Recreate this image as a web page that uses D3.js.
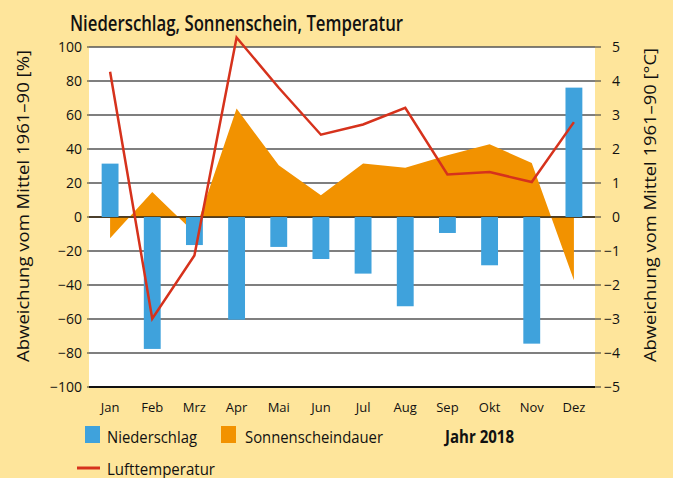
<!DOCTYPE html>
<html>
<head>
<meta charset="utf-8">
<script src="https://cdn.jsdelivr.net/npm/d3@7"></script>
<style>
  body { margin: 0; background: #fee59b; }
  text { font-family: "Open Sans", sans-serif; fill: #111; }
</style>
</head>
<body>
<div id="chart"></div>
<script>
var width = 673,
    height = 478;

var months = ["Jan", "Feb", "Mrz", "Apr", "Mai", "Jun", "Jul", "Aug", "Sep", "Okt", "Nov", "Dez"];
var niederschlag = [31.4, -77.6, -16.5, -60.4, -17.6, -24.7, -33.3, -52.5, -9.4, -28.4, -74.5, 76.1];
var sonnenschein = [-12.5, 14.7, -9.2, 63.8, 30.4, 12.8, 31.4, 29.0, 36.3, 42.8, 31.8, -37.2];
var temperatur = [4.27, -2.99, -1.13, 5.28, 3.8, 2.42, 2.72, 3.21, 1.25, 1.32, 1.03, 2.79];
var pctTicks = [100, 80, 60, 40, 20, 0, -20, -40, -60, -80, -100];
var tempTicks = [5, 4, 3, 2, 1, 0, -1, -2, -3, -4, -5];

var plotLeft = 89, plotRight = 595, plotTop = 47, plotBottom = 387;

var svg = d3.select("#chart").append("svg")
    .attr("width", width)
    .attr("height", height);

svg.append("rect").attr("width", width).attr("height", height).attr("fill", "#fee59b");

var x = d3.scaleBand().domain(months).range([plotLeft, plotRight]).paddingInner(0.6).paddingOuter(0.3);
var xc = d3.scalePoint().domain(months).range([plotLeft, plotRight]).padding(0.5);
var y = d3.scaleLinear().domain([-100, 100]).range([plotBottom, plotTop]);
var yT = d3.scaleLinear().domain([-5, 5]).range([plotBottom, plotTop]);

// plot background
svg.append("rect")
    .attr("x", plotLeft).attr("y", plotTop)
    .attr("width", plotRight - plotLeft).attr("height", plotBottom - plotTop)
    .attr("fill", "white");

// grid
svg.append("g")
    .selectAll("line")
    .data(pctTicks)
    .join("line")
    .attr("x1", plotLeft).attr("x2", plotRight)
    .attr("y1", d => y(d)).attr("y2", d => y(d))
    .attr("stroke", d => d === -100 ? "#111" : "#555")
    .attr("stroke-width", d => d === -100 ? 2 : 1.5);

// Sonnenscheindauer area
svg.append("path")
    .datum(sonnenschein)
    .attr("fill", "#f29200")
    .attr("d", d3.area()
        .x((d, i) => xc(months[i]))
        .y0(y(0))
        .y1(d => y(d)));

// zero line
svg.append("line")
    .attr("x1", plotLeft).attr("x2", plotRight)
    .attr("y1", y(0)).attr("y2", y(0))
    .attr("stroke", "#3a2a10")
    .attr("stroke-opacity", 0.75)
    .attr("stroke-width", 2);

// Niederschlag bars
svg.append("g")
    .selectAll("rect")
    .data(niederschlag)
    .join("rect")
    .attr("x", (d, i) => x(months[i]))
    .attr("width", x.bandwidth())
    .attr("y", d => y(Math.max(0, d)))
    .attr("height", d => Math.abs(y(d) - y(0)))
    .attr("fill", "#3fa2dc");

// Lufttemperatur
svg.append("path")
    .datum(temperatur)
    .attr("fill", "none")
    .attr("stroke", "#d6321c")
    .attr("stroke-width", 2.5)
    .attr("d", d3.line()
        .x((d, i) => xc(months[i]))
        .y(d => yT(d)));

// left axis
var gl = svg.append("g");
gl.selectAll("line")
    .data(pctTicks)
    .join("line")
    .attr("x1", plotLeft - 2).attr("x2", plotLeft)
    .attr("y1", d => y(d)).attr("y2", d => y(d))
    .attr("stroke", "#333");
gl.selectAll("text")
    .data(pctTicks)
    .join("text")
    .attr("x", 82)
    .attr("y", d => y(d))
    .attr("dy", "0.35em")
    .attr("text-anchor", "end")
    .attr("font-size", 14)
    .text(d => d < 0 ? "\u2212" + Math.abs(d) : d);

// right axis
var gr = svg.append("g");
gr.selectAll("line")
    .data(tempTicks)
    .join("line")
    .attr("x1", plotRight).attr("x2", plotRight + 6)
    .attr("y1", d => yT(d)).attr("y2", d => yT(d))
    .attr("stroke", "#333");
gr.selectAll("text")
    .data(tempTicks)
    .join("text")
    .attr("x", 620)
    .attr("y", d => yT(d))
    .attr("dy", "0.35em")
    .attr("text-anchor", "end")
    .attr("font-size", 14)
    .text(d => d < 0 ? "\u2212" + Math.abs(d) : d);

// month labels
svg.append("g")
    .selectAll("text")
    .data(months)
    .join("text")
    .attr("x", d => xc(d))
    .attr("y", 412)
    .attr("text-anchor", "middle")
    .attr("font-size", 13)
    .text(d => d);

// title
svg.append("text")
    .attr("x", 70).attr("y", 31)
    .attr("font-size", 21)
    .attr("font-weight", 600)
    .attr("textLength", 333)
    .attr("lengthAdjust", "spacingAndGlyphs")
    .text("Niederschlag, Sonnenschein, Temperatur");

// axis titles
svg.append("text")
    .attr("transform", "translate(29,206) rotate(-90)")
    .attr("text-anchor", "middle")
    .attr("font-size", 17)
    .attr("textLength", 312)
    .attr("lengthAdjust", "spacingAndGlyphs")
    .text("Abweichung vom Mittel 1961\u201390 [%]");
svg.append("text")
    .attr("transform", "translate(656,205) rotate(-90)")
    .attr("text-anchor", "middle")
    .attr("font-size", 17)
    .attr("textLength", 314)
    .attr("lengthAdjust", "spacingAndGlyphs")
    .text("Abweichung vom Mittel 1961\u201390 [\u00b0C]");

// legend
var legend = svg.append("g").attr("font-size", 17);
legend.append("rect").attr("x", 85).attr("y", 426).attr("width", 15).attr("height", 17).attr("fill", "#3fa2dc");
legend.append("text").attr("x", 107).attr("y", 443)
    .attr("textLength", 90).attr("lengthAdjust", "spacingAndGlyphs").text("Niederschlag");
legend.append("rect").attr("x", 221).attr("y", 426).attr("width", 15).attr("height", 17).attr("fill", "#f29200");
legend.append("text").attr("x", 245).attr("y", 443)
    .attr("textLength", 138).attr("lengthAdjust", "spacingAndGlyphs").text("Sonnenscheindauer");
legend.append("text").attr("x", 445).attr("y", 443).attr("font-weight", 700)
    .attr("textLength", 69).attr("lengthAdjust", "spacingAndGlyphs").text("Jahr 2018");
legend.append("line").attr("x1", 77).attr("x2", 100).attr("y1", 468).attr("y2", 468)
    .attr("stroke", "#d6321c").attr("stroke-width", 3);
legend.append("text").attr("x", 107).attr("y", 475)
    .attr("textLength", 108).attr("lengthAdjust", "spacingAndGlyphs").text("Lufttemperatur");
</script>
</body>
</html>
